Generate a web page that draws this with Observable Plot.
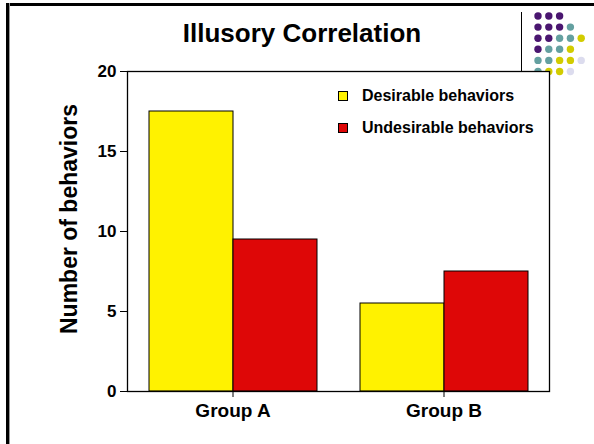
<!DOCTYPE html>
<html>
<head>
<meta charset="utf-8">
<script src="https://cdn.jsdelivr.net/npm/d3@7"></script>
<script src="https://cdn.jsdelivr.net/npm/@observablehq/plot@0.6"></script>
<style>
  html, body { margin: 0; padding: 0; background: #fff; }
  #slide { position: relative; width: 594px; height: 444px; overflow: hidden; font-family: "Liberation Sans", Arial, sans-serif; font-weight: bold; color: #000; }
  #topline { position: absolute; left: 6px; top: 3px; width: 588px; height: 3px; background: #000; }
  #leftline { position: absolute; left: 6px; top: 3px; width: 3px; height: 441px; background: #000; border-right: 1px solid #999; }
  #vline { position: absolute; left: 521px; top: 12px; width: 1px; height: 60px; background: #000; }
  #deco { position: absolute; left: 0; top: 0; }
  #chart { position: absolute; left: 0; top: 0; }
  #title { position: absolute; left: 0; width: 604px; top: 18px; text-align: center; font-size: 26px; line-height: 30px; }
  #ylabel { position: absolute; left: 69px; top: 219px; transform: translate(-50%, -50%) rotate(-90deg); white-space: nowrap; font-size: 23px; }
  #legend { position: absolute; left: 338px; top: 87px; font-size: 16px; }
  .item { display: flex; align-items: center; height: 18px; margin-bottom: 14px; }
  .sw { width: 8px; height: 8px; border: 1px solid #000; margin-right: 14px; }
</style>
</head>
<body>
<div id="slide">
  <div id="topline"></div>
  <div id="leftline"></div>
  <div id="vline"></div>
  <svg id="deco" width="594" height="444"></svg>
  <div id="chart"></div>
  <div id="title">Illusory Correlation</div>
  <div id="ylabel">Number of behaviors</div>
  <div id="legend"></div>
</div>
<script>
// ---- data ----
const groups = ["Group A", "Group B"];
const series = ["Desirable behaviors", "Undesirable behaviors"];
const desirable = [17.5, 5.5];
const undesirable = [9.5, 7.5];
const yTicks = [0, 5, 10, 15, 20];
const seriesColors = ["#fff200", "#de0707"];

// decorative dot pattern (P purple, T teal, Y yellow, L lavender)
const dotRows = ["PPP", "PPPT", "PPTTY", "PTTY", "TTYYL", "TYYL"];
const dotColors = {P: "#4a1670", T: "#64a0a0", Y: "#d2cc00", L: "#dcdcee"};

// ---- decoration ----
const deco = d3.select("#deco");
dotRows.forEach((row, r) => {
  [...row].forEach((c, i) => {
    deco.append("circle").attr("cx", 538 + i * 10.8).attr("cy", 16 + r * 11.1).attr("r", 3.7).attr("fill", dotColors[c]);
  });
});

// ---- table ----
const table = [];
groups.forEach((g, i) => {
  table.push({group: g, series: series[0], value: desirable[i]});
  table.push({group: g, series: series[1], value: undesirable[i]});
});

const chart = Plot.plot({
  width: 594,
  height: 444,
  marginLeft: 126,
  marginRight: 45,
  marginTop: 71,
  marginBottom: 53,
  style: {fontFamily: "'Liberation Sans', Arial, sans-serif", fontWeight: "bold", background: "transparent", color: "#000"},
  fx: {domain: groups, padding: 0, label: null, axis: null},
  x: {domain: series, paddingInner: 0, paddingOuter: 0.25, axis: null},
  y: {domain: [0, 20], label: null, axis: null},
  color: {domain: series, range: seriesColors},
  marks: [
    Plot.frame({facet: "super", fill: "white", stroke: "none"}),
    Plot.barY(table, {fx: "group", x: "series", y: "value", fill: "series", stroke: "#000", strokeWidth: 1}),
    Plot.frame({facet: "super", stroke: "#000", strokeWidth: 1.3}),
    Plot.axisY({ticks: yTicks, tickSize: 7, tickPadding: 4, fontSize: 17, fontWeight: "bold", label: null, tickFormat: d3.format("d")}),
    Plot.axisFx({anchor: "bottom", tickSize: 6, tickPadding: 6, fontSize: 19, fontWeight: "bold", label: null})
  ]
});
document.getElementById("chart").appendChild(chart);

// ---- legend ----
const legend = document.getElementById("legend");
series.forEach((s, i) => {
  const item = document.createElement("div");
  item.className = "item";
  const sw = document.createElement("div");
  sw.className = "sw";
  sw.style.background = seriesColors[i];
  const t = document.createElement("span");
  t.textContent = s;
  item.appendChild(sw);
  item.appendChild(t);
  legend.appendChild(item);
});
</script>
</body>
</html>
